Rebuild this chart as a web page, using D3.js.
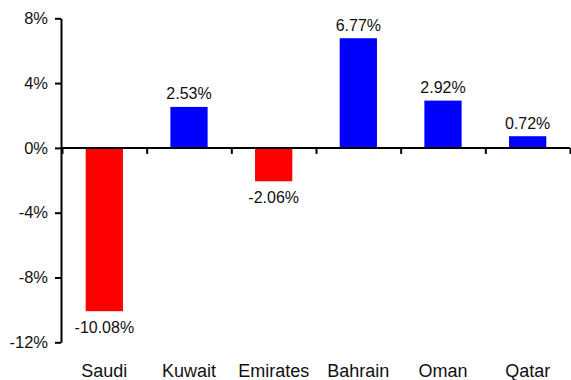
<!DOCTYPE html>
<html>
<head>
<meta charset="utf-8">
<script src="https://cdn.jsdelivr.net/npm/d3@7/dist/d3.min.js"></script>
<style>
  html, body { margin: 0; padding: 0; background: #fff; }
  svg { display: block; font-family: "Liberation Sans", Arial, sans-serif; }
</style>
</head>
<body>
<svg id="chart" width="571" height="380"></svg>
<script>
// GCC market changes (%)
const countries = ["Saudi", "Kuwait", "Emirates", "Bahrain", "Oman", "Qatar"];
const changes = [-10.08, 2.53, -2.06, 6.77, 2.92, 0.72];
const yTicks = [-12, -8, -4, 0, 4, 8];

const svg = d3.select("#chart");
const plotLeft = 61, plotRight = 570, plotTop = 18.3, plotBottom = 342.3;

const y = d3.scaleLinear().domain([-12, 8]).range([plotBottom, plotTop]);
const x = d3.scaleBand().domain(countries).range([plotLeft + 1, plotRight])
  .paddingInner(0.56).paddingOuter(0.28);
const xEdges = d3.scaleLinear().domain([0, countries.length]).range([plotLeft + 1, plotRight]);

const data = countries.map((c, i) => ({ name: c, value: changes[i] }));

// bars
svg.append("g").selectAll("rect").data(data).join("rect")
  .attr("x", d => x(d.name))
  .attr("width", x.bandwidth())
  .attr("y", d => y(Math.max(0, d.value)))
  .attr("height", d => Math.abs(y(d.value) - y(0)))
  .attr("fill", d => d.value < 0 ? "#ff0000" : "#0000ff");

// value labels (slightly tall lettering)
svg.append("g").selectAll("text").data(data).join("text")
  .attr("transform", d => {
    const tx = x(d.name) + x.bandwidth() / 2;
    const ty = d.value < 0 ? y(d.value) + 22 : y(d.value) - 7.5;
    return `translate(${tx},${ty}) scale(1,1.07)`;
  })
  .attr("text-anchor", "middle")
  .attr("font-size", 16)
  .attr("fill", "#111")
  .text(d => d.value.toFixed(2) + "%");

// y axis
const yAxis = svg.append("g").attr("transform", `translate(${plotLeft},0)`)
  .call(d3.axisLeft(y).tickValues(yTicks).tickFormat(d => d + "%")
    .tickSize(6).tickSizeOuter(0).tickPadding(7));
yAxis.selectAll("text").attr("font-size", 16.5).attr("fill", "#111")
  .attr("font-family", "Liberation Sans, Arial, sans-serif");

// x axis at zero with ticks between categories
const xAxis = svg.append("g").attr("transform", `translate(0,${y(0)})`)
  .call(d3.axisBottom(xEdges).ticks(countries.length).tickFormat("")
    .tickSize(6).tickSizeOuter(0));
xAxis.select(".domain").attr("d", `M${plotLeft},0H${plotRight}`);

svg.selectAll(".domain, .tick line").attr("stroke", "#000").attr("stroke-width", 2);

// category labels
svg.append("g").selectAll("text").data(countries).join("text")
  .attr("x", d => x(d) + x.bandwidth() / 2)
  .attr("y", 377)
  .attr("text-anchor", "middle")
  .attr("font-size", 18)
  .attr("fill", "#111")
  .text(d => d);
</script>
</body>
</html>
